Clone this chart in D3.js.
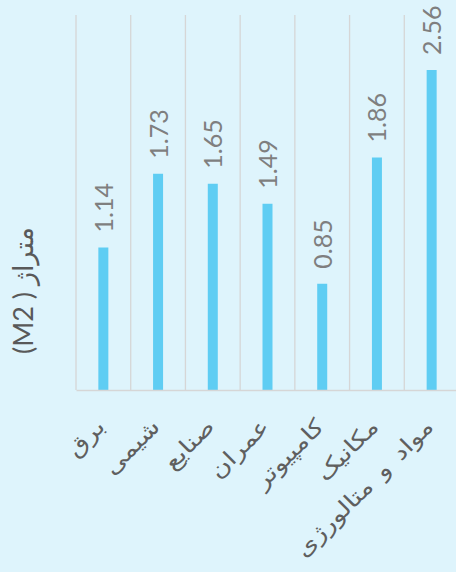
<!DOCTYPE html>
<html>
<head>
<meta charset="utf-8">
<script src="https://cdn.jsdelivr.net/npm/d3@7"></script>
<style>
  html, body { margin: 0; padding: 0; background: #DEF4FC; }
  svg { display: block; }
</style>
</head>
<body>
<svg id="chart" width="456" height="572"></svg>
<script>
const categories = ["برق", "شیمی", "صنایع", "عمران", "کامپیوتر", "مکانیک", "مواد و متالورژی"];
const values = [1.14, 1.73, 1.65, 1.49, 0.85, 1.86, 2.56];
const yTitle = "(M2 ) متراژ";

const W = 456, H = 572;
const svg = d3.select("#chart");
svg.append("rect").attr("width", W).attr("height", H).attr("fill", "#DEF4FC");

const x = d3.scaleBand().domain(categories).range([76, 459]).padding(0);
const y = d3.scaleLinear().domain([0, 3]).range([390, 15]);
const barW = 10;

// vertical gridlines at band boundaries
const bounds = categories.map(c => x(c)).concat([x.range()[1]]);
svg.append("g").selectAll("line").data(bounds).join("line")
  .attr("x1", d => d).attr("x2", d => d)
  .attr("y1", y(3)).attr("y2", y(0))
  .attr("stroke", "#D6D6D6").attr("stroke-width", 1.3);

// bars
svg.append("g").selectAll("rect").data(values).join("rect")
  .attr("x", (d, i) => x(categories[i]) + x.bandwidth() / 2 - barW / 2)
  .attr("width", barW)
  .attr("y", d => y(d))
  .attr("height", d => y(0) - y(d))
  .attr("fill", "#5FCDF3");

// baseline axis
const xAxis = d3.axisBottom(x).tickSize(0).tickFormat("");
const gx = svg.append("g").attr("transform", `translate(0,${y(0)})`).call(xAxis);
gx.select(".domain").attr("stroke", "#D6D6D6").attr("stroke-width", 1.6);

// category labels
svg.append("g").selectAll("text").data(categories).join("text")
  .attr("transform", d => `translate(${x(d) + x.bandwidth() / 2 + 3},${y(0) + 38}) rotate(-45) scale(1.22,1)`)
  .attr("text-anchor", "end")
  .attr("font-family", "'DejaVu Sans', 'Noto Sans', sans-serif")
  .attr("font-size", 22)
  .attr("word-spacing", 3)
  .attr("fill", "#5F5F5F")
  .text(d => d);

// value labels
svg.append("g").selectAll("text").data(values).join("text")
  .attr("transform", (d, i) => `translate(${x(categories[i]) + x.bandwidth() / 2 + 9.5},${y(d) - 15}) rotate(-90)`)
  .attr("text-anchor", "start")
  .attr("font-family", "Lato, 'Open Sans', sans-serif")
  .attr("font-size", 25)
  .attr("fill", "#7F7F7F")
  .text(d => d.toFixed(2));

// y axis title
svg.append("text")
  .attr("transform", `translate(33,${(y(0) + y(3)) / 2 + 88}) rotate(-90)`)
  .attr("text-anchor", "middle")
  .attr("font-family", "Lato, 'DejaVu Sans', sans-serif")
  .attr("font-size", 27)
  .attr("fill", "#595959")
  .text(yTitle);
</script>
</body>
</html>
